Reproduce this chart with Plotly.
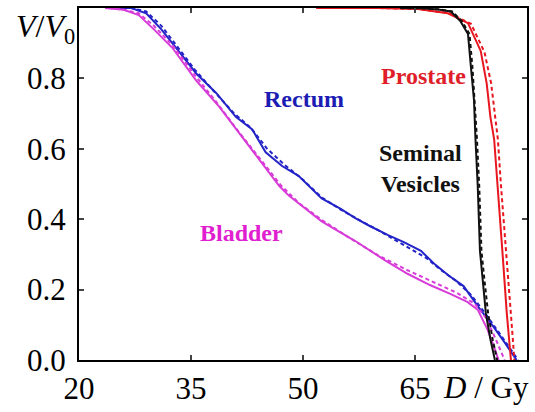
import plotly.graph_objects as go

# dose-volume histograms, D in Gy, V/V0 fraction
rectum_d = [24, 27, 29, 31, 33, 35.7, 38.4, 41, 43.2, 45, 47.2, 49.4, 52.5, 55, 57, 59, 61.4, 63.5, 65.8, 67.7, 69.5, 71.5, 73.5, 75.5, 77, 78.6]
rectum_v = [1.0, 1.0, 0.985, 0.94, 0.887, 0.814, 0.758, 0.691, 0.655, 0.59, 0.551, 0.523, 0.459, 0.43, 0.403, 0.38, 0.355, 0.335, 0.31, 0.271, 0.24, 0.21, 0.15, 0.095, 0.05, 0.0]
rectum_d2 = [25, 27, 29, 31, 33, 35.5, 38, 40.8, 43, 45.2, 47.5, 50, 52.5, 55, 57.5, 60, 62, 64.5, 66.5, 68.5, 70.5, 72.5, 74.5, 76.5, 78.8]
rectum_v2 = [1.0, 1.0, 0.99, 0.95, 0.895, 0.825, 0.765, 0.70, 0.66, 0.6, 0.555, 0.512, 0.462, 0.428, 0.398, 0.37, 0.345, 0.315, 0.29, 0.255, 0.225, 0.185, 0.13, 0.07, 0.0]

bladder_d = [23.5, 26, 28, 30, 32.5, 35.7, 38.8, 41.8, 44.5, 46.8, 48.1, 52.5, 57, 61, 64, 67, 69.8, 72, 73.4, 74.7, 75.7, 76.2]
bladder_v = [1.0, 0.995, 0.98, 0.94, 0.887, 0.794, 0.719, 0.635, 0.562, 0.495, 0.467, 0.394, 0.338, 0.283, 0.245, 0.213, 0.187, 0.165, 0.143, 0.087, 0.03, 0.0]
bladder_d2 = [24, 26, 28, 30, 32.5, 35.5, 38.5, 41.5, 44.5, 47, 49.5, 52.5, 56, 60, 64, 67.5, 70.5, 73, 74.5, 75.8, 77]
bladder_v2 = [1.0, 0.995, 0.985, 0.95, 0.895, 0.81, 0.73, 0.645, 0.565, 0.497, 0.445, 0.398, 0.35, 0.298, 0.255, 0.22, 0.192, 0.16, 0.12, 0.06, 0.0]

prostate_d = [51.8, 60, 65.4, 69.4, 72.1, 73.8, 74.6, 75.1, 75.6, 76.1, 76.7, 77.3, 77.55, 77.85]
prostate_v = [1.0, 1.0, 0.997, 0.985, 0.957, 0.878, 0.786, 0.69, 0.627, 0.495, 0.31, 0.131, 0.067, 0.0]
prostate_d2 = [51.8, 60, 65.4, 69.6, 72.5, 74.3, 75.2, 75.7, 76.1, 76.5, 77.1, 77.6, 77.9, 78.1, 78.3]
prostate_v2 = [1.0, 1.0, 0.997, 0.985, 0.955, 0.875, 0.786, 0.69, 0.627, 0.5, 0.34, 0.22, 0.13, 0.06, 0.0]

vesicles_d = [63, 66, 68.1, 69.8, 71.1, 72.1, 72.5, 72.9, 73.1, 73.4, 73.7, 74.1, 74.5, 75.1, 75.7]
vesicles_v = [1.0, 0.999, 0.996, 0.99, 0.962, 0.926, 0.83, 0.738, 0.627, 0.495, 0.31, 0.227, 0.131, 0.059, 0.0]
vesicles_d2 = [63, 66, 68.3, 70, 71.3, 72.3, 72.7, 73.0, 73.3, 73.6, 73.9, 74.3, 74.8, 75.4, 76.0]
vesicles_v2 = [1.0, 0.999, 0.996, 0.99, 0.962, 0.926, 0.83, 0.738, 0.627, 0.495, 0.31, 0.227, 0.131, 0.059, 0.0]

x_ticks = [20, 35, 50, 65]
y_ticks = [0.0, 0.2, 0.4, 0.6, 0.8]

BLUE = "#2323c8"
MAGENTA = "#d83cd8"
RED = "#e8161e"
BLACK = "#111111"

fig = go.Figure()

curves = [
    (rectum_d, rectum_v, rectum_d2, rectum_v2, BLUE),
    (bladder_d, bladder_v, bladder_d2, bladder_v2, MAGENTA),
    (prostate_d, prostate_v, prostate_d2, prostate_v2, RED),
    (vesicles_d, vesicles_v, vesicles_d2, vesicles_v2, BLACK),
]
for d, v, d2, v2, col in curves:
    fig.add_trace(go.Scatter(x=d, y=v, mode="lines", line=dict(color=col, width=2), showlegend=False))
    fig.add_trace(go.Scatter(x=d2, y=v2, mode="lines", line=dict(color=col, width=2, dash="4px,3px"), showlegend=False))

serif = "Liberation Serif, Times New Roman, serif"

labels = [
    ("Rectum", 50.2, 0.741, "#1c1cb4"),
    ("Prostate", 66.2, 0.808, "#e01e2a"),
    ("Seminal<br>Vesicles", 65.8, 0.543, "#111111"),
    ("Bladder", 41.8, 0.361, "#e020d0"),
]
for txt, lx, ly, col in labels:
    fig.add_annotation(x=lx, y=ly, xref="x", yref="y", text="<b>" + txt + "</b>", showarrow=False,
                       font=dict(family=serif, size=24, color=col), align="center")

fig.add_annotation(x=0, y=1, xref="paper", yref="paper", xanchor="right", yanchor="top",
                   xshift=-2, yshift=2, text="<i>V</i>/<i>V</i><sub>0</sub>", showarrow=False,
                   font=dict(family=serif, size=32, color="black"))
fig.add_annotation(x=0.809, y=0, xref="paper", yref="paper", xanchor="left", yanchor="top",
                   yshift=-8, text="<i>D</i> / Gy", showarrow=False,
                   font=dict(family=serif, size=31, color="black"))

fig.update_xaxes(range=[20, 80], tickvals=x_ticks, ticks="inside", ticklen=5, tickwidth=1.5,
                 showline=True, linewidth=2, linecolor="black", mirror="ticks", showgrid=False,
                 zeroline=False, tickfont=dict(family=serif, size=31, color="black"))
fig.update_yaxes(range=[0, 1], tickvals=y_ticks, tickformat=".1f", ticks="inside", ticklen=5, tickwidth=1.5,
                 showline=True, linewidth=2, linecolor="black", mirror="ticks", showgrid=False,
                 zeroline=False, ticklabelstandoff=5, tickfont=dict(family=serif, size=31, color="black"))

fig.update_layout(
    width=535, height=412,
    margin=dict(l=79, r=6, t=7, b=48),
    paper_bgcolor="white", plot_bgcolor="white",
)

# page has a default 8px body margin; drop it so the figure sits at the corner
fig.write_html("out.html", config={"displayModeBar": False},
               post_script="document.body.style.margin='0px';")
